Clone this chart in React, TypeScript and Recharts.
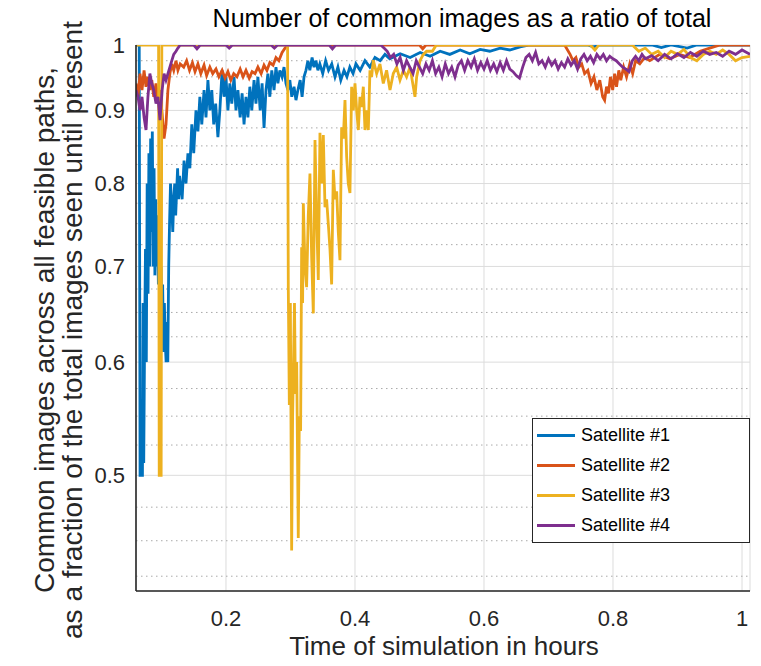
import { LineChart, Line, XAxis, YAxis, CartesianGrid, Legend } from 'recharts';

const FONT = '"Liberation Sans", Arial, Helvetica, sans-serif';
const INK = '#262626';

const X_DOMAIN: [number, number] = [0.0605, 1.0124];
const Y_DOMAIN: [number, number] = [0.415, 1];
const X_TICKS = [0.2, 0.4, 0.6, 0.8, 1];
const Y_TICKS = [0.5, 0.6, 0.7, 0.8, 0.9, 1];
const Y_MINOR = [
  0.425, 0.45, 0.475, 0.525, 0.55, 0.575, 0.625, 0.65, 0.675,
  0.725, 0.75, 0.775, 0.825, 0.85, 0.875, 0.925, 0.95, 0.975,
];
const Y_ALL = [...Y_MINOR, ...Y_TICKS].sort((a, b) => a - b);

// [time in hours, ratio]
const SAT1: [number, number][] = [
  [0.0605, 1.0], [0.0655, 1.0], [0.0668, 0.5], [0.0705, 0.5], [0.0715, 0.66], [0.0725, 0.51],
  [0.0738, 0.62], [0.0752, 0.72], [0.0765, 0.6], [0.0778, 0.8], [0.0792, 0.67], [0.0805, 0.84],
  [0.0818, 0.7], [0.0832, 0.86], [0.0845, 0.74], [0.0858, 0.87], [0.0872, 0.7], [0.0885, 0.82],
  [0.0898, 0.69], [0.0912, 0.78], [0.0925, 0.7], [0.0938, 0.76], [0.0952, 0.68], [0.0965, 0.72],
  [0.0978, 0.66], [0.0992, 0.7], [0.1005, 0.64], [0.1018, 0.68], [0.1032, 0.61], [0.1045, 0.66],
  [0.1058, 0.62], [0.1072, 0.6], [0.1085, 0.64], [0.1098, 0.6], [0.1112, 0.7], [0.1125, 0.75],
  [0.114, 0.8], [0.116, 0.77], [0.1175, 0.74], [0.119, 0.78], [0.1205, 0.8], [0.122, 0.76],
  [0.1235, 0.79], [0.125, 0.82], [0.1265, 0.78], [0.128, 0.81], [0.132, 0.78], [0.135, 0.83],
  [0.138, 0.8], [0.141, 0.84], [0.144, 0.82], [0.147, 0.88], [0.15, 0.84], [0.1535, 0.9],
  [0.1565, 0.87], [0.1595, 0.92], [0.1625, 0.88], [0.166, 0.93], [0.169, 0.89], [0.172, 0.945],
  [0.175, 0.9], [0.178, 0.93], [0.181, 0.88], [0.184, 0.91], [0.1875, 0.862], [0.1905, 0.9],
  [0.194, 0.96], [0.197, 0.92], [0.2, 0.95], [0.203, 0.9], [0.206, 0.94], [0.209, 0.91],
  [0.2125, 0.95], [0.2155, 0.9], [0.2185, 0.93], [0.222, 0.89], [0.225, 0.925], [0.228, 0.88],
  [0.231, 0.92], [0.234, 0.89], [0.237, 0.935], [0.24, 0.9], [0.2435, 0.945], [0.2465, 0.91],
  [0.2495, 0.95], [0.253, 0.9], [0.256, 0.94], [0.259, 0.875], [0.262, 0.93], [0.265, 0.955],
  [0.268, 0.92], [0.271, 0.96], [0.2745, 0.93], [0.2775, 0.965], [0.2805, 0.94], [0.2835, 0.96],
  [0.287, 0.95], [0.29, 0.965], [0.293, 0.94], [0.296, 0.93], [0.299, 0.945], [0.302, 0.92],
  [0.3055, 0.935], [0.3085, 0.915], [0.3115, 0.93], [0.315, 0.945], [0.318, 0.92], [0.321, 0.95],
  [0.324, 0.96], [0.327, 0.975], [0.33, 0.96], [0.3335, 0.98], [0.3365, 0.965], [0.3395, 0.975],
  [0.3425, 0.96], [0.3455, 0.97], [0.35, 0.955], [0.3545, 0.975], [0.359, 0.96], [0.364, 0.97],
  [0.369, 0.95], [0.3735, 0.965], [0.378, 0.945], [0.383, 0.96], [0.3875, 0.95], [0.392, 0.965],
  [0.397, 0.955], [0.4015, 0.97], [0.408, 0.96], [0.4155, 0.975], [0.423, 0.965], [0.431, 0.98],
  [0.439, 0.975], [0.4465, 0.985], [0.454, 0.978], [0.47, 0.986], [0.4855, 0.98], [0.501, 0.988],
  [0.5165, 0.982], [0.532, 0.99], [0.547, 0.985], [0.563, 0.992], [0.578, 0.986], [0.594, 0.993],
  [0.609, 0.99], [0.625, 0.995], [0.64, 0.992], [0.656, 0.997], [0.671, 1.0], [0.76, 1.0],
  [0.77, 0.997], [0.78, 1.0], [0.86, 1.0], [0.875, 0.996], [0.89, 1.0], [0.915, 0.995],
  [0.93, 1.0], [1.0124, 1.0],
];

const SAT2: [number, number][] = [
  [0.0605, 0.94], [0.0636, 0.92], [0.0667, 0.955], [0.0698, 0.93], [0.073, 0.96], [0.076, 0.935],
  [0.079, 0.95], [0.082, 0.93], [0.085, 0.945], [0.088, 0.92], [0.0915, 0.94], [0.0945, 0.915],
  [0.0977, 0.93], [0.101, 0.895], [0.104, 0.86], [0.107, 0.88], [0.11, 0.93], [0.113, 0.955],
  [0.116, 0.97], [0.119, 0.96], [0.1225, 0.975], [0.1255, 0.96], [0.129, 0.97], [0.1345, 0.965],
  [0.139, 0.975], [0.1435, 0.96], [0.148, 0.972], [0.152, 0.958], [0.1565, 0.97], [0.161, 0.955],
  [0.166, 0.968], [0.17, 0.952], [0.175, 0.965], [0.1795, 0.955], [0.1845, 0.962], [0.189, 0.95],
  [0.194, 0.96], [0.1985, 0.948], [0.203, 0.958], [0.2075, 0.945], [0.212, 0.955], [0.217, 0.95],
  [0.222, 0.962], [0.2265, 0.95], [0.231, 0.96], [0.236, 0.948], [0.2405, 0.958], [0.245, 0.955],
  [0.2495, 0.965], [0.2545, 0.955], [0.259, 0.968], [0.2635, 0.96], [0.268, 0.972], [0.273, 0.968],
  [0.2775, 0.98], [0.282, 0.975], [0.287, 0.988], [0.2915, 0.995], [0.296, 1.0], [0.5, 1.0],
  [0.505, 0.994], [0.51, 1.0], [0.725, 1.0], [0.7335, 0.985], [0.738, 0.975], [0.7425, 0.98],
  [0.747, 0.965], [0.7515, 0.97], [0.756, 0.955], [0.761, 0.96], [0.766, 0.94], [0.7705, 0.95],
  [0.775, 0.93], [0.7795, 0.945], [0.784, 0.92], [0.787, 0.915], [0.79, 0.935], [0.793, 0.925],
  [0.796, 0.95], [0.7995, 0.93], [0.8025, 0.955], [0.8055, 0.935], [0.809, 0.96], [0.812, 0.945],
  [0.8165, 0.965], [0.821, 0.95], [0.826, 0.97], [0.8305, 0.955], [0.835, 0.975], [0.8415, 0.97],
  [0.849, 0.98], [0.857, 0.975], [0.8725, 0.985], [0.888, 0.978], [0.9035, 0.985], [0.919, 0.98],
  [0.935, 0.99], [0.95, 0.995], [0.966, 1.0], [1.0124, 1.0],
];

const SAT3: [number, number][] = [
  [0.0605, 1.0], [0.0955, 1.0], [0.0965, 0.5], [0.0995, 0.5], [0.1005, 1.0], [0.2955, 1.0],
  [0.2966, 0.677], [0.2982, 0.56], [0.2998, 0.66], [0.3018, 0.443], [0.3033, 0.55], [0.3047, 0.6],
  [0.3062, 0.66], [0.3077, 0.57], [0.3096, 0.6], [0.3121, 0.452], [0.3137, 0.55], [0.3157, 0.537],
  [0.3173, 0.722], [0.3188, 0.66], [0.3199, 0.775], [0.3225, 0.7], [0.325, 0.677], [0.3276, 0.76],
  [0.3302, 0.813], [0.3328, 0.711], [0.3354, 0.649], [0.338, 0.858], [0.3405, 0.76], [0.3431, 0.685],
  [0.3457, 0.868], [0.3483, 0.8], [0.3509, 0.865], [0.3535, 0.77], [0.356, 0.78], [0.3586, 0.75],
  [0.3612, 0.72], [0.3638, 0.68], [0.3664, 0.818], [0.369, 0.78], [0.3716, 0.79], [0.3741, 0.74],
  [0.3767, 0.707], [0.3793, 0.876], [0.3819, 0.86], [0.3845, 0.915], [0.3871, 0.835], [0.3896, 0.8],
  [0.3922, 0.788], [0.3948, 0.935], [0.3974, 0.9], [0.4, 0.94], [0.4026, 0.9], [0.4052, 0.872],
  [0.4077, 0.92], [0.4103, 0.905], [0.4129, 0.935], [0.4155, 0.872], [0.4181, 0.9], [0.4207, 0.872],
  [0.4232, 0.96], [0.4258, 0.95], [0.4284, 0.976], [0.4336, 0.955], [0.4387, 0.97], [0.4439, 0.94],
  [0.449, 0.96], [0.4543, 0.93], [0.4594, 0.955], [0.4646, 0.965], [0.4698, 0.945], [0.475, 0.96],
  [0.48, 0.95], [0.4853, 0.965], [0.4904, 0.935], [0.493, 0.92], [0.4956, 0.95], [0.5008, 0.975],
  [0.506, 0.985], [0.511, 0.99], [0.52, 0.99], [0.526, 1.0], [0.765, 1.0], [0.772, 0.992],
  [0.778, 1.0], [0.83, 1.0], [0.84, 0.99], [0.85, 0.995], [0.86, 0.985], [0.87, 0.99],
  [0.88, 0.98], [0.89, 0.99], [0.9, 0.985], [0.91, 0.993], [0.92, 0.98], [0.93, 0.975],
  [0.94, 0.985], [0.95, 0.99], [0.96, 0.985], [0.97, 0.992], [0.98, 0.985], [0.99, 0.975],
  [1.0, 0.98], [1.0124, 0.982],
];

const SAT4: [number, number][] = [
  [0.0605, 0.93], [0.0636, 0.92], [0.0667, 0.9], [0.0698, 0.92], [0.073, 0.89], [0.076, 0.872],
  [0.079, 0.92], [0.082, 0.955], [0.085, 0.94], [0.088, 0.93], [0.0915, 0.91], [0.0945, 0.92],
  [0.0977, 0.886], [0.101, 0.93], [0.104, 0.955], [0.107, 0.945], [0.11, 0.955], [0.113, 0.965],
  [0.116, 0.975], [0.119, 0.985], [0.1225, 0.99], [0.1255, 0.995], [0.129, 1.0], [0.15, 1.0],
  [0.155, 0.994], [0.16, 1.0], [0.2, 1.0], [0.205, 0.995], [0.21, 1.0], [0.27, 1.0],
  [0.275, 0.995], [0.28, 1.0], [0.36, 1.0], [0.365, 0.994], [0.37, 1.0], [0.44, 1.0],
  [0.445, 0.995], [0.45, 0.99], [0.455, 0.98], [0.46, 0.985], [0.465, 0.97], [0.47, 0.98],
  [0.475, 0.96], [0.48, 0.975], [0.485, 0.965], [0.49, 0.955], [0.495, 0.975], [0.5, 0.965],
  [0.505, 0.955], [0.51, 0.97], [0.515, 0.96], [0.52, 0.975], [0.525, 0.955], [0.53, 0.965],
  [0.535, 0.95], [0.54, 0.97], [0.545, 0.955], [0.55, 0.965], [0.555, 0.95], [0.56, 0.968],
  [0.565, 0.975], [0.57, 0.96], [0.575, 0.975], [0.58, 0.965], [0.585, 0.978], [0.59, 0.96],
  [0.595, 0.972], [0.6, 0.962], [0.605, 0.975], [0.61, 0.96], [0.615, 0.97], [0.62, 0.958],
  [0.625, 0.972], [0.63, 0.96], [0.635, 0.975], [0.64, 0.962], [0.645, 0.958], [0.65, 0.952],
  [0.655, 0.948], [0.66, 0.965], [0.665, 0.98], [0.67, 0.985], [0.675, 0.975], [0.68, 0.988],
  [0.685, 0.97], [0.69, 0.975], [0.695, 0.965], [0.7, 0.978], [0.705, 0.968], [0.71, 0.975],
  [0.715, 0.962], [0.72, 0.972], [0.725, 0.965], [0.73, 0.978], [0.735, 0.968], [0.74, 0.975],
  [0.745, 0.962], [0.75, 0.978], [0.755, 0.985], [0.76, 0.975], [0.765, 0.982], [0.77, 0.972],
  [0.775, 0.985], [0.78, 0.978], [0.785, 0.985], [0.79, 0.975], [0.795, 0.982], [0.8, 0.978],
  [0.805, 0.975], [0.81, 0.97], [0.815, 0.965], [0.82, 0.962], [0.825, 0.958], [0.83, 0.975],
  [0.835, 0.982], [0.84, 0.975], [0.845, 0.985], [0.85, 0.978], [0.86, 0.983], [0.87, 0.975],
  [0.88, 0.985], [0.89, 0.978], [0.9, 0.986], [0.91, 0.98], [0.92, 0.988], [0.93, 0.982],
  [0.94, 0.99], [0.95, 0.985], [0.96, 0.988], [0.97, 0.982], [0.98, 0.99], [0.99, 0.985],
  [1.0, 0.992], [1.0124, 0.985],
];

const SERIES_NAMES = ['Satellite #1', 'Satellite #2', 'Satellite #3', 'Satellite #4'];
const SERIES_COLORS = ['#0072BD', '#D95319', '#EDB120', '#7E2F8E'];
const SERIES_POINTS = [SAT1, SAT2, SAT3, SAT4];

const fmt = (v: number) => (v === 1 ? '1' : v.toFixed(1));
const toRows = (pts: [number, number][]) => pts.map(([t, v]) => ({ t, v }));
const NoLabel = () => <g />;

function LegendBox() {
  return (
    <div
      style={{
        position: 'relative',
        width: 218,
        height: 125,
        boxSizing: 'border-box',
        border: `1.6px solid ${INK}`,
        background: '#fff',
        fontFamily: FONT,
      }}
    >
      {SERIES_NAMES.map((name, i) => (
        <div
          key={name}
          style={{
            position: 'absolute',
            left: 0,
            top: 16 + i * 30.3 - 11,
            height: 22,
            display: 'flex',
            alignItems: 'center',
          }}
        >
          <span
            style={{
              display: 'inline-block',
              marginLeft: 4,
              width: 38,
              height: 3,
              background: SERIES_COLORS[i],
            }}
          />
          <span style={{ marginLeft: 6, fontSize: 18, color: '#000' }}>{name}</span>
        </div>
      ))}
    </div>
  );
}

const axisTickLine = { stroke: INK, strokeWidth: 1.3 };

export default function App() {
  return (
    <div style={{ position: 'relative', width: 745, height: 650, fontFamily: FONT }}>
      <LineChart width={745} height={650} margin={{ top: 37, right: 3, bottom: 0, left: 0 }}>
        <CartesianGrid xAxisId="x" yAxisId="y" stroke="#dcdcdc" strokeWidth={1} />
        <CartesianGrid
          xAxisId="x"
          yAxisId="y"
          vertical={false}
          horizontalValues={Y_MINOR}
          stroke="#a9a9a9"
          strokeDasharray="1.5 3.5"
        />

        {/* inward tick marks on all four sides */}
        <XAxis
          xAxisId="xb"
          type="number"
          domain={X_DOMAIN}
          allowDataOverflow
          ticks={X_TICKS}
          interval={0}
          orientation="bottom"
          mirror
          height={0}
          tick={NoLabel}
          tickSize={7}
          axisLine={false}
          tickLine={axisTickLine}
        />
        <XAxis
          xAxisId="xt"
          type="number"
          domain={X_DOMAIN}
          allowDataOverflow
          ticks={X_TICKS}
          interval={0}
          orientation="top"
          mirror
          height={0}
          tick={NoLabel}
          tickSize={7}
          axisLine={{ stroke: INK, strokeWidth: 1.6 }}
          tickLine={axisTickLine}
        />
        <YAxis
          yAxisId="yl"
          type="number"
          scale="log"
          domain={Y_DOMAIN}
          allowDataOverflow
          ticks={Y_ALL}
          interval={0}
          orientation="left"
          mirror
          width={0}
          tick={NoLabel}
          tickSize={7}
          axisLine={false}
          tickLine={axisTickLine}
        />
        <YAxis
          yAxisId="yr"
          type="number"
          scale="log"
          domain={Y_DOMAIN}
          allowDataOverflow
          ticks={Y_ALL}
          interval={0}
          orientation="right"
          mirror
          width={0}
          tick={NoLabel}
          tickSize={7}
          axisLine={{ stroke: INK, strokeWidth: 1.6 }}
          tickLine={axisTickLine}
        />

        <XAxis
          xAxisId="x"
          type="number"
          dataKey="t"
          domain={X_DOMAIN}
          allowDataOverflow
          ticks={X_TICKS}
          interval={0}
          tickFormatter={fmt}
          height={67}
          tickSize={0}
          tickMargin={19}
          tickLine={false}
          axisLine={{ stroke: INK, strokeWidth: 1.6 }}
          tick={{ fontSize: 22, fill: INK, fontFamily: FONT }}
        />
        <YAxis
          yAxisId="y"
          type="number"
          scale="log"
          domain={Y_DOMAIN}
          allowDataOverflow
          ticks={Y_TICKS}
          interval={0}
          tickFormatter={fmt}
          width={128}
          tickSize={0}
          tickMargin={11}
          tickLine={false}
          axisLine={{ stroke: INK, strokeWidth: 1.6 }}
          tick={{ fontSize: 22, fill: INK, fontFamily: FONT }}
        />

        {SERIES_POINTS.map((pts, i) => (
          <Line
            key={SERIES_NAMES[i]}
            name={SERIES_NAMES[i]}
            xAxisId="x"
            yAxisId="y"
            data={toRows(pts)}
            dataKey="v"
            type="linear"
            stroke={SERIES_COLORS[i]}
            strokeWidth={2.8}
            dot={false}
            isAnimationActive={false}
          />
        ))}

        <Legend
          layout="vertical"
          align="center"
          verticalAlign="middle"
          content={<LegendBox />}
          wrapperStyle={{ left: 524, top: 410, width: 218, height: 125 }}
        />
      </LineChart>

      {/* titles, in page pixels (this svg covers the whole page) */}
      <svg
        width={745}
        height={666}
        style={{ position: 'absolute', left: 0, top: -8, pointerEvents: 'none' }}
        fontFamily={FONT}
      >
        <text x={454} y={27} textAnchor="middle" fontSize={25} fill="#000">
          Number of common images as a ratio of total
        </text>
        <text x={436} y={655} textAnchor="middle" fontSize={26} fill={INK}>
          Time of simulation in hours
        </text>
        <text transform="translate(46,330) rotate(-90)" textAnchor="middle" fontSize={28} fill={INK}>
          Common images across all feasible paths,
        </text>
        <text transform="translate(74,330) rotate(-90)" textAnchor="middle" fontSize={28} fill={INK}>
          as a fraction of the total images seen until present
        </text>
      </svg>
    </div>
  );
}
